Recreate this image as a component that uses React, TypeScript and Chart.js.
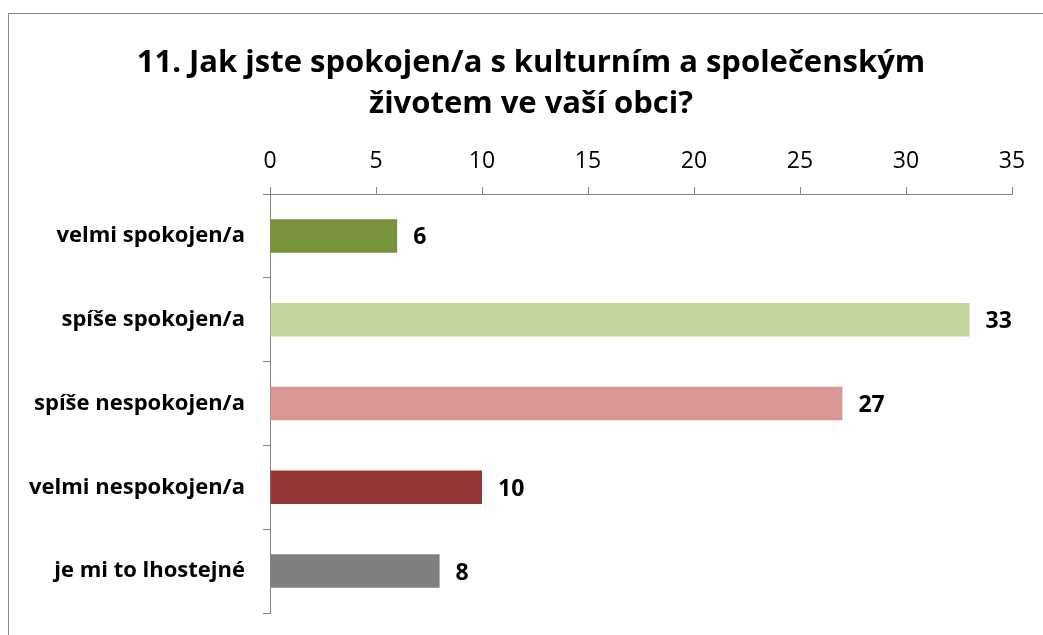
import React, { useEffect, useRef } from "react";
import { Chart, registerables } from "chart.js";

Chart.register(...registerables);

const categories = [
  "velmi spokojen/a",
  "spíše spokojen/a",
  "spíše nespokojen/a",
  "velmi nespokojen/a",
  "je mi to lhostejné",
];
const values = [6, 33, 27, 10, 8];
const barColors = ["#77933C", "#C3D69B", "#D99694", "#953735", "#7F7F7F"];
const titleLines = ["11. Jak jste spokojen/a s kulturním a společenským", "životem ve vaší obci?"];
const axisMin = 0;
const axisMax = 35;
const axisStep = 5;

const FONT = "'Open Sans', sans-serif";
const AXIS_GRAY = "#868686";

const valueLabels = {
  id: "valueLabels",
  afterDatasetsDraw(chart: any) {
    const ctx = chart.ctx;
    ctx.save();
    ctx.font = `bold 23px ${FONT}`;
    ctx.fillStyle = "#000";
    ctx.textAlign = "left";
    ctx.textBaseline = "middle";
    chart.getDatasetMeta(0).data.forEach((bar: any, i: number) => {
      ctx.fillText(String(chart.data.datasets[0].data[i]), bar.x + 16, bar.y + 2);
    });
    ctx.restore();
  },
};

export default function App() {
  const ref = useRef<HTMLCanvasElement>(null);
  useEffect(() => {
    if (!ref.current) return;
    const chart = new Chart(ref.current, {
      type: "bar",
      data: {
        labels: categories,
        datasets: [
          {
            data: values,
            backgroundColor: barColors,
            borderWidth: 0,
            barPercentage: 0.4,
            categoryPercentage: 1,
          },
        ],
      },
      options: {
        indexAxis: "y",
        responsive: false,
        animation: false,
        layout: { padding: { left: 10, right: 0, top: 0, bottom: 22 } },
        plugins: {
          legend: { display: false },
          tooltip: { enabled: false },
          title: {
            display: true,
            text: titleLines,
            color: "#000",
            font: { family: FONT, size: 31, weight: "bold", lineHeight: "41px" as any },
            padding: { top: 29, bottom: 0 },
          },
        },
        scales: {
          x: {
            position: "top",
            min: axisMin,
            max: axisMax,
            ticks: {
              stepSize: axisStep,
              color: "#000",
              font: { family: FONT, size: 23 },
              padding: 12,
            },
            grid: { drawOnChartArea: false, color: AXIS_GRAY, tickLength: 7 },
            border: { color: AXIS_GRAY, width: 1 },
            afterFit(scale: any) {
              scale.height = 180 - 29 - 82;
              scale.paddingLeft = 0;
              scale.paddingRight = 31;
            },
          },
          y: {
            ticks: {
              color: "#000",
              font: { family: FONT, size: 22, weight: "bold" },
              padding: 18,
            },
            grid: { drawOnChartArea: false, color: AXIS_GRAY, tickLength: 7 },
            border: { color: AXIS_GRAY, width: 1 },
            afterFit(scale: any) {
              scale.width = 261 - 10;
              scale.paddingTop = 0;
              scale.paddingBottom = 0;
            },
          },
        },
      },
      plugins: [valueLabels],
    });
    return () => chart.destroy();
  }, []);

  return (
    <div
      style={{
        position: "absolute",
        left: 8,
        top: 13,
        width: 1035,
        height: 622,
        boxSizing: "border-box",
        borderTop: `1px solid ${AXIS_GRAY}`,
        borderLeft: `1px solid ${AXIS_GRAY}`,
        background: "#fff",
      }}
    >
      <canvas ref={ref} width={1034} height={621} style={{ display: "block" }} />
    </div>
  );
}
